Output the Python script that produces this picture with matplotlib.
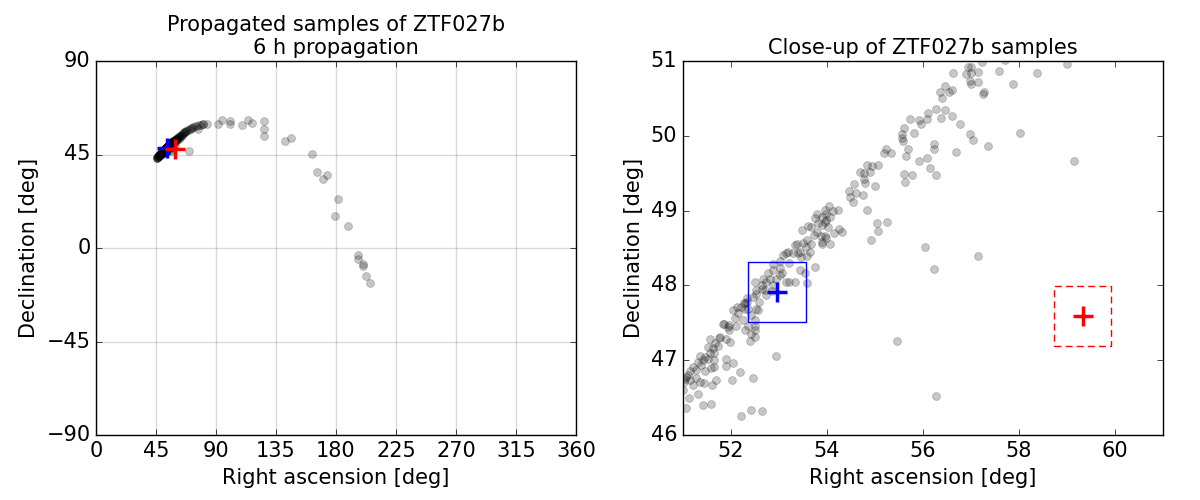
import numpy as np
import matplotlib
matplotlib.use("Agg")
import matplotlib.pyplot as plt
from matplotlib.patches import Rectangle

# propagated samples (RA, Dec in deg)
ra_samples = [
    # close-up band, lower part
    51.85, 51.97, 52.11, 51.96, 52.29, 52.42, 52.51, 52.39, 51.78, 51.89,
    51.99, 51.57, 51.67, 51.52, 51.63, 51.73, 51.66, 51.56, 51.47, 51.35,
    51.31, 51.42, 51.52, 51.64, 51.38, 51.21, 51.14, 51.28, 51.66, 51.59,
    51.47, 51.90, 52.04, 51.89, 52.19, 51.07, 51.03, 51.14, 51.28, 51.35,
    51.21, 51.45, 51.69, 51.61, 52.03, 52.46, 52.94, 51.00, 51.13, 51.31,
    51.07, 51.43, 51.59, 52.22, 52.42, 52.65,
    51.84, 51.94, 52.08, 52.05, 52.15, 52.29, 52.12, 52.33, 52.58, 52.50,
    51.05, 51.10, 52.30, 51.75,
    # around the blue box
    53.49, 53.61, 53.68, 53.80, 53.88, 53.73, 53.96, 54.06, 53.89, 54.03,
    54.15, 54.31, 53.96, 53.37, 53.51, 53.56, 53.68, 53.66, 53.58, 53.47,
    53.40, 53.30, 53.19, 53.09, 53.16, 53.22, 53.03, 52.88, 52.87, 53.02,
    53.07, 53.02, 52.95, 52.78, 52.81, 52.67, 52.88, 52.74, 52.50, 52.64,
    52.71, 52.85, 52.74, 52.53, 52.52, 52.47, 52.33, 52.27, 52.22, 52.36,
    52.53, 52.57, 52.43, 52.50, 52.36, 52.50, 52.26, 53.16, 53.33, 53.22,
    53.45, 53.54, 53.75, 53.58, 53.79, 53.99, 53.89, 53.75, 53.82, 53.58,
    53.44, 53.33, 52.65,
    # middle of the band
    55.23, 55.19, 55.33, 55.58, 55.69, 55.65, 55.92, 56.09, 56.23, 56.24,
    56.15, 56.27, 55.61, 55.78, 55.63, 54.84, 54.95, 55.07, 54.69, 54.77,
    54.91, 54.77, 54.79, 55.00, 54.56, 54.47, 54.60, 54.76, 54.49, 54.55,
    54.83, 55.05, 55.26, 55.07, 54.92, 54.24, 54.05, 53.96, 54.13, 54.06,
    53.98, 53.89, 54.26, 53.99, 53.89,
    # upper part of the band
    56.94, 57.01, 56.91, 57.01, 57.15, 57.15, 56.98, 57.01, 57.24, 56.63,
    57.59, 57.71, 57.87, 58.37, 57.26, 57.28, 56.35, 56.46, 56.54, 56.60,
    56.40, 56.28, 56.47, 56.60, 56.38, 56.11, 56.09, 55.92, 55.97, 55.73,
    55.61, 55.56, 55.56, 55.82, 56.70, 56.78, 56.98, 57.05, 57.36, 58.03,
    # scattered outliers in the close-up
    55.46, 56.05, 57.15, 56.23, 56.28, 59.01, 59.15,
    # tail below the close-up
    50.90, 50.80, 50.70, 50.60, 50.50, 50.40, 50.30, 50.20, 50.10, 50.00,
    49.90, 49.80, 49.70, 49.60, 49.50, 49.40, 49.30, 49.20, 49.10, 49.00,
    48.90, 48.80, 48.60, 48.50, 48.30, 48.20, 48.00, 47.80, 47.60, 47.40,
    47.20, 47.00, 46.80, 46.60, 46.40, 46.20, 46.00, 45.80, 45.60, 45.50,
    50.60, 50.20, 49.70, 49.00, 48.40,
    # arc above the close-up
    57.30, 57.60, 57.90, 58.20, 58.50, 58.80, 59.10, 59.40, 59.80, 60.10,
    60.50, 60.90, 61.30, 61.80, 62.20, 62.70, 63.20, 63.80, 64.40, 65.00,
    65.60, 66.30, 67.00, 67.80, 68.60, 69.50, 70.50, 71.50, 72.80, 74.00,
    75.50, 77.00, 78.50, 80.00, 80.50, 71.80, 76.70, 83.00, 66.70,
    59.50, 60.50, 62.00, 64.00,
    # far outliers
    70.0, 91.8, 94.2, 100.5, 100.7, 109.5, 114.3, 117.0, 125.7, 126.3,
    126.3, 142.0, 146.0, 162.3, 166.0, 170.5, 173.5, 181.8, 179.5, 189.3,
    196.8, 196.8, 200.3, 200.5, 202.8, 205.8,
]
dec_samples = [
    47.49, 47.47, 47.46, 47.40, 47.40, 47.35, 47.31, 47.26, 47.31, 47.29,
    47.24, 47.29, 47.23, 47.18, 47.16, 47.19, 47.09, 47.09, 47.04, 47.05,
    46.98, 47.00, 47.01, 47.00, 46.94, 46.91, 46.85, 46.87, 46.91, 46.89,
    46.85, 47.01, 46.96, 46.92, 46.84, 46.78, 46.71, 46.73, 46.76, 46.71,
    46.67, 46.69, 46.74, 46.67, 46.74, 46.76, 47.06, 46.60, 46.50, 46.55,
    46.36, 46.40, 46.41, 46.26, 46.34, 46.32,
    47.49, 47.45, 47.56, 47.67, 47.63, 47.69, 47.71, 47.83, 47.78, 47.40,
    46.75, 46.80, 47.76, 47.30,
    48.74, 48.79, 48.78, 48.72, 48.66, 48.67, 48.66, 48.56, 48.58, 48.78,
    48.70, 48.71, 48.85, 48.55, 48.57, 48.52, 48.55, 48.45, 48.39, 48.38,
    48.43, 48.43, 48.44, 48.41, 48.43, 48.30, 48.32, 48.29, 48.21, 48.23,
    48.16, 48.14, 48.09, 48.16, 48.09, 48.09, 48.00, 48.05, 48.05, 48.00,
    47.94, 47.92, 47.87, 47.94, 47.88, 47.85, 47.78, 47.77, 47.71, 47.69,
    47.69, 47.67, 47.60, 47.54, 47.46, 47.46, 47.54, 48.04, 48.05, 48.05,
    48.21, 48.17, 48.25, 48.03, 48.96, 48.95, 48.92, 48.90, 48.83, 48.61,
    48.45, 48.54, 47.95,
    49.82, 49.77, 49.77, 49.93, 49.83, 49.73, 49.66, 49.70, 49.89, 49.83,
    49.57, 49.48, 49.49, 49.48, 49.38, 49.61, 49.60, 49.61, 49.52, 49.50,
    49.52, 49.42, 49.37, 49.33, 49.36, 49.26, 49.23, 49.21, 49.18, 49.11,
    49.01, 48.84, 48.85, 48.73, 48.61, 49.01, 49.06, 49.01, 48.99, 48.92,
    48.87, 48.81, 48.75, 48.63, 48.56,
    50.92, 50.92, 50.82, 50.84, 50.85, 50.72, 50.73, 50.69, 50.99, 50.84,
    50.86, 51.02, 50.69, 50.84, 50.56, 50.58, 50.59, 50.66, 50.58, 50.61,
    50.51, 50.36, 50.34, 50.26, 50.24, 50.30, 50.22, 50.21, 50.16, 50.23,
    50.11, 50.02, 49.97, 50.04, 49.78, 50.16, 50.02, 49.94, 49.86, 50.04,
    47.26, 48.51, 48.39, 48.22, 46.52, 50.96, 49.66,
    46.55, 46.62, 46.45, 46.50, 46.35, 46.42, 46.25, 46.30, 46.15, 46.22,
    46.05, 46.12, 45.95, 46.00, 45.85, 45.90, 45.72, 45.80, 45.62, 45.68,
    45.55, 45.45, 45.38, 45.30, 45.20, 45.10, 45.00, 44.85, 44.75, 44.60,
    44.50, 44.35, 44.20, 44.05, 43.95, 43.80, 43.65, 43.50, 43.40, 43.25,
    46.10, 45.90, 45.60, 45.30, 44.90,
    51.15, 51.20, 51.40, 51.50, 51.60, 51.85, 51.90, 52.10, 52.20, 52.45,
    52.60, 52.80, 53.00, 53.20, 53.50, 53.70, 54.00, 54.20, 54.60, 54.90,
    55.30, 55.60, 56.00, 56.30, 56.70, 57.00, 57.40, 57.80, 58.10, 58.50,
    58.80, 59.00, 59.30, 59.60, 59.50, 57.60, 57.30, 59.70, 56.00,
    51.40, 51.80, 52.70, 53.60,
    46.5, 59.5, 61.5, 61.1, 59.5, 59.2, 61.5, 60.2, 61.1, 57.1,
    53.8, 51.3, 52.8, 45.1, 36.4, 33.1, 35.0, 23.4, 15.3, 10.5,
    -3.4, -5.4, -7.8, -8.8, -13.6, -17.0,
]

# nominal positions (blue) and offset position (red)
ra_blue, dec_blue = 52.96, 47.91
ra_red, dec_red = 59.33, 47.59
box_half = 0.4  # deg on sky

plt.style.use("classic")
plt.rcParams["font.family"] = "DejaVu Sans"

fig = plt.figure(figsize=(12, 5), dpi=100, facecolor="white")
ax1 = fig.add_axes([0.08, 0.13, 0.40, 0.748])
ax2 = fig.add_axes([0.569, 0.13, 0.40, 0.748])

for ax in (ax1, ax2):
    ax.scatter(ra_samples, dec_samples, s=32, c="k", alpha=0.22,
               edgecolors="k", linewidths=0.6, zorder=2)
    ax.plot(ra_blue, dec_blue, "+", color="b", ms=14, mew=2.5, zorder=4)
    ax.plot(ra_red, dec_red, "+", color="r", ms=14, mew=2.5, zorder=4)
    ax.tick_params(labelsize=15)

ax1.set_xlim(0, 360)
ax1.set_ylim(-90, 90)
ax1.set_xticks(np.arange(0, 361, 45))
ax1.set_yticks(np.arange(-90, 91, 45))
ax1.grid(True, color="k", alpha=0.15, linestyle="-", linewidth=1)
ax1.set_axisbelow(True)
ax1.set_title("Propagated samples of ZTF027b\n6 h propagation", fontsize=15)
ax1.set_xlabel("Right ascension [deg]", fontsize=15)
ax1.set_ylabel("Declination [deg]", fontsize=15)

for ra0, dec0, col, ls in [(ra_blue, dec_blue, "b", "-"), (ra_red, dec_red, "r", "--")]:
    hw = box_half / np.cos(np.radians(dec0))
    rect = Rectangle((ra0 - hw, dec0 - box_half), 2 * hw, 2 * box_half,
                     fill=False, edgecolor=col, linestyle=ls, linewidth=1, zorder=3)
    if ls == "--":
        rect.set_linestyle((0, (5, 3)))
    ax2.add_patch(rect)

ax2.set_xlim(51, 61)
ax2.set_ylim(46, 51)
ax2.set_xticks(np.arange(52, 61, 2))
ax2.set_yticks(np.arange(46, 52, 1))
ax2.set_title("Close-up of ZTF027b samples", fontsize=15)
ax2.set_xlabel("Right ascension [deg]", fontsize=15)
ax2.set_ylabel("Declination [deg]", fontsize=15)

fig.savefig("out.png", dpi=100, facecolor="white")
